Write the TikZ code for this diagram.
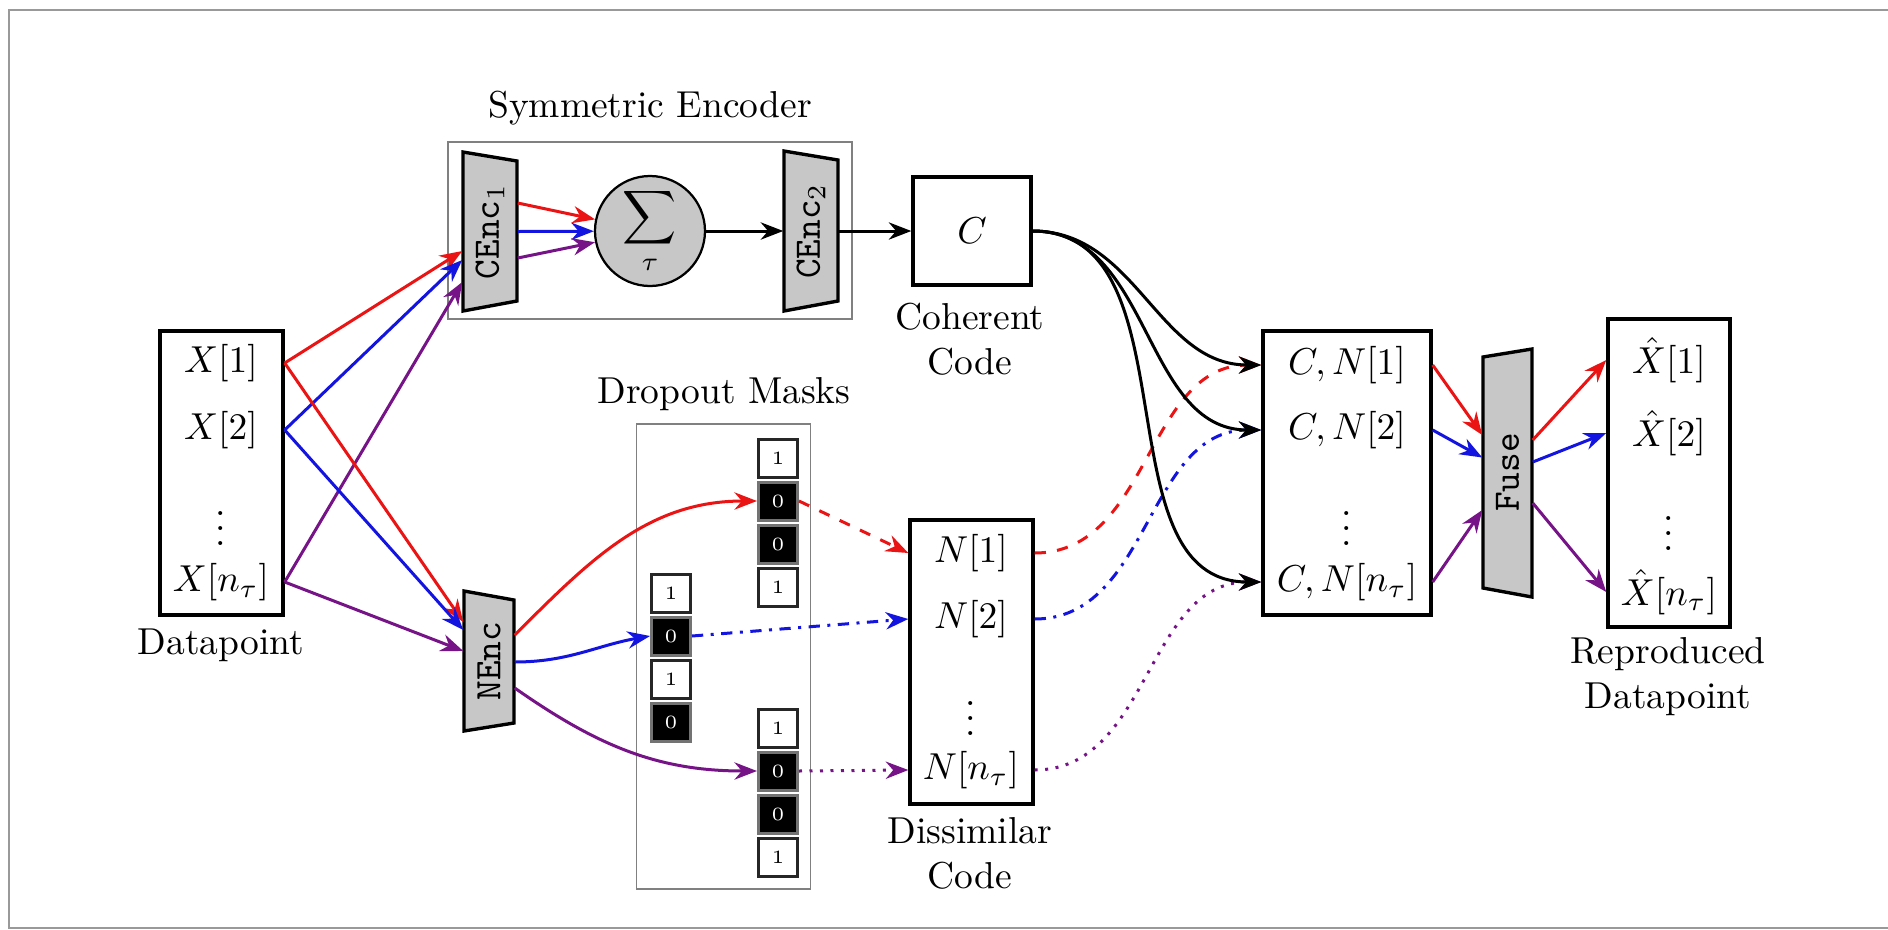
\documentclass[tikz,border=0pt]{standalone}
\usetikzlibrary{arrows.meta,calc}
\definecolor{cred}{RGB}{235,20,20}
\definecolor{cblue}{RGB}{20,20,225}
\definecolor{cpurple}{RGB}{118,20,135}
\def\pxu{0.2667pt}
\begin{document}
\begin{tikzpicture}[x=0.2667pt, y=-0.2667pt,
  box/.style={draw=black, line width=0.9pt, inner sep=0pt},
  grp/.style={draw=black!50, line width=0.5pt, inner sep=0pt},
  lbl/.style={align=center, inner sep=0pt},
  row/.style={inner sep=0pt},
  trap/.style={draw=black, line width=0.9pt, fill=black!22, line join=miter},
  enc/.style={inner sep=0pt},
  arr/.style={-{Stealth[length=6pt,width=4.6pt]}, line width=0.8pt},
  cellw/.style={draw=black!85, line width=0.8pt, fill=white, minimum width=39*\pxu, minimum height=38*\pxu, inner sep=0pt, font=\tiny},
  cellb/.style={draw=black!55, line width=0.8pt, fill=black, text=white, minimum width=39*\pxu, minimum height=38*\pxu, inner sep=0pt, font=\tiny}
]
\useasboundingbox (0,0) rectangle (1888,930);
% frame
\draw[black!40, line width=0.7pt] (1888,10) -- (9,10) -- (9,928) -- (1888,928);

% Datapoint
\node[box, minimum width=123*\pxu, minimum height=284*\pxu] (dp) at (221.5,473) {};
\node[row] (x1) at (221,363) {$X[1]$};
\node[row] (x2) at (221,430) {$X[2]$};
\node[row] (xd) at (221,517) {$\vdots$};
\node[row] (x3) at (221,582) {$X[n_\tau]$};
\node[lbl] (dpl) at (221,645) {Datapoint};

% Symmetric encoder
\node[grp, minimum width=404*\pxu, minimum height=177*\pxu] (seb) at (650,230.5) {};
\node[lbl] (sel) at (650,108) {Symmetric Encoder};
\path[trap] (463,152) -- (517,161) -- (517,301) -- (463,311) -- cycle;
\node[enc, minimum width=54*\pxu, minimum height=159*\pxu] (cenc1) at (490,231.5) {\rotatebox{90}{\texttt{CEnc}$_1$}};
\node[circle, draw=black, line width=0.6pt, fill=black!22, minimum size=110*\pxu, inner sep=0pt] (sum) at (650,231) {$\displaystyle\sum_\tau$};
\path[trap] (784,151) -- (838,160) -- (838,301) -- (784,311) -- cycle;
\node[enc, minimum width=54*\pxu, minimum height=159*\pxu] (cenc2) at (811,231) {\rotatebox{90}{\texttt{CEnc}$_2$}};

% Coherent code
\node[box, minimum width=118*\pxu, minimum height=108*\pxu] (cc) at (972,231) {$C$};
\node[lbl] (ccl) at (970,339) {Coherent\\Code};

% NEnc
\path[trap] (464,591) -- (514,600) -- (514,723) -- (464,731) -- cycle;
\node[enc, minimum width=50*\pxu, minimum height=140*\pxu] (nenc) at (489,661) {\rotatebox{90}{\texttt{NEnc}}};

% Dropout masks
\node[grp, minimum width=174*\pxu, minimum height=465*\pxu] (dmb) at (723.5,656.5) {};
\node[lbl] (dml) at (724,394) {Dropout Masks};
\node[cellw] (a1) at (778,458) {1};
\node[cellb] (a2) at (778,501) {0};
\node[cellb] (a3) at (778,544) {0};
\node[cellw] (a4) at (778,587) {1};
\node[cellw] (b1) at (671,593) {1};
\node[cellb] (b2) at (671,636) {0};
\node[cellw] (b3) at (671,679) {1};
\node[cellb] (b4) at (671,722) {0};
\node[cellw] (c1) at (778,728) {1};
\node[cellb] (c2) at (778,771) {0};
\node[cellb] (c3) at (778,814) {0};
\node[cellw] (c4) at (778,857) {1};

% Dissimilar code
\node[box, minimum width=123*\pxu, minimum height=284*\pxu] (nb) at (971.5,662) {};
\node[row] (n1) at (971,553) {$N[1]$};
\node[row] (n2) at (971,619) {$N[2]$};
\node[row] (nd) at (971,707) {$\vdots$};
\node[row] (n3) at (971,770) {$N[n_\tau]$};
\node[lbl] (nbl) at (970,853) {Dissimilar\\Code};

% Combined
\node[box, minimum width=168*\pxu, minimum height=284*\pxu] (cn) at (1347,473) {};
\node[row] (cn1) at (1347,365) {$C,N[1]$};
\node[row] (cn2) at (1347,430) {$C,N[2]$};
\node[row] (cnd) at (1347,517) {$\vdots$};
\node[row] (cn3) at (1347,582) {$C,N[n_\tau]$};

% Fuse
\path[trap] (1483,357) -- (1532,349) -- (1532,597) -- (1483,588) -- cycle;
\node[enc, minimum width=49*\pxu, minimum height=231*\pxu] (fuse) at (1507.5,472.5) {\rotatebox{90}{\texttt{Fuse}}};

% Reproduced
\node[box, minimum width=122*\pxu, minimum height=308*\pxu] (xh) at (1669,473) {};
\node[row] (xh1) at (1669,360) {$\hat{X}[1]$};
\node[row] (xh2) at (1669,433) {$\hat{X}[2]$};
\node[row] (xhd) at (1669,522) {$\vdots$};
\node[row] (xh3) at (1669,592) {$\hat{X}[n_\tau]$};
\node[lbl] (xhl) at (1668,677) {Reproduced\\Datapoint};

% X -> encoders
\draw[arr, cred] (dp.east |- x1) -- ($(cenc1.west)+(0,19.5)$);
\draw[arr, cblue] (dp.east |- x2) -- ($(cenc1.west)+(0,28.5)$);
\draw[arr, cpurple] (dp.east |- x3) -- ($(cenc1.west)+(0,50.5)$);
\draw[arr, cred] (dp.east |- x1) -- ($(nenc.west)+(0,-39)$);
\draw[arr, cblue] (dp.east |- x2) -- ($(nenc.west)+(0,-31)$);
\draw[arr, cpurple] (dp.east |- x3) -- ($(nenc.west)+(0,-10)$);

% symmetric encoder internals
\draw[arr, cred] ($(cenc1.east)+(0,-28.5)$) -- (sum);
\draw[arr, cblue] (cenc1.east) -- (sum);
\draw[arr, cpurple] ($(cenc1.east)+(0,26.5)$) -- (sum);
\draw[arr, black] (sum) -- (cenc2.west);
\draw[arr, black] (cenc2.east) -- (cc.west);

% NEnc -> masks
\draw[arr, cred] ($(nenc.east)+(0,-26)$) to[out=45,in=180] (a2.west);
\draw[arr, cblue] ($(nenc.east)+(0,1)$) to[out=0,in=190] (b2.west);
\draw[arr, cpurple] ($(nenc.east)+(0,27)$) to[out=-35,in=180] (c2.west);

% masks -> N
\draw[arr, cred, dashed] (a2.east) -- (nb.west |- n1);
\draw[arr, cblue, dash dot] (b2.east) -- (nb.west |- n2);
\draw[arr, cpurple, dotted] (c2.east) -- (nb.west |- n3);

% N -> CN
\draw[arr, cred, dashed] (nb.east |- n1) to[out=0,in=180] (cn.west |- cn1);
\draw[arr, cblue, dash dot] (nb.east |- n2) to[out=0,in=180] (cn.west |- cn2);
\draw[arr, cpurple, dotted] (nb.east |- n3) to[out=0,in=180] (cn.west |- cn3);

% C -> CN
\draw[arr, black] (cc.east) to[out=0,in=180] (cn.west |- cn1);
\draw[arr, black] (cc.east) to[out=0,in=180] (cn.west |- cn2);
\draw[arr, black] (cc.east) to[out=0,in=180] (cn.west |- cn3);

% CN -> Fuse
\draw[arr, cred] (cn.east |- cn1) -- ($(fuse.west)+(0,-37.5)$);
\draw[arr, cblue] (cn.east |- cn2) -- ($(fuse.west)+(0,-15)$);
\draw[arr, cpurple] (cn.east |- cn3) -- ($(fuse.west)+(0,37.5)$);

% Fuse -> Xhat
\draw[arr, cred] ($(fuse.east)+(0,-32.5)$) -- (xh.west |- xh1);
\draw[arr, cblue] ($(fuse.east)+(0,-10.5)$) -- (xh.west |- xh2);
\draw[arr, cpurple] ($(fuse.east)+(0,30.5)$) -- (xh.west |- xh3);
\end{tikzpicture}
\end{document}
